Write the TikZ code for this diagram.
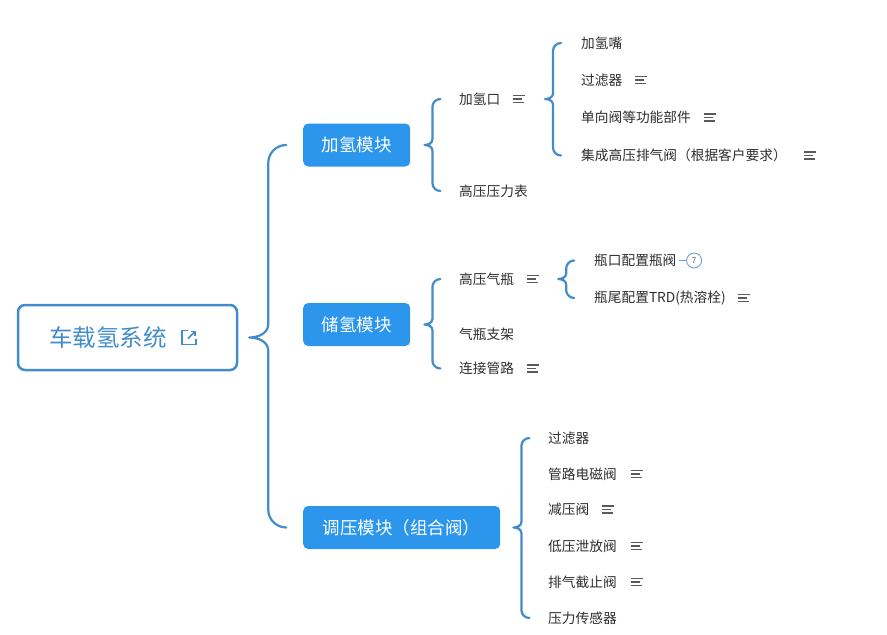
\documentclass[tikz,border=0pt]{standalone}
\usepackage{fontspec}
\setmainfont{Noto Sans CJK SC}
\usetikzlibrary{arrows.meta, calc}
\definecolor{mapblue}  {RGB}{ 43,150,236}
\definecolor{linkblue} {RGB}{ 66,140,204}
\definecolor{leafgray} {RGB}{ 45, 45, 45}
\definecolor{notegray} {RGB}{ 90, 90, 90}
\definecolor{badgeblue}{RGB}{110,160,210}
\tikzset{
  brace line/.style = {linkblue, line width=2.2pt, line cap=round},
  root box/.style   = {draw=linkblue, line width=2.5pt, rounded corners=7pt, fill=white,
                       minimum width=219pt, minimum height=65pt, text=linkblue,
                       font=\fontsize{23.5}{26}\selectfont},
  module box/.style = {fill=mapblue, rounded corners=5pt, text=white, anchor=west,
                       minimum height=43pt, inner xsep=18.5pt,
                       font=\fontsize{17.5}{20}\selectfont},
  leaf/.style       = {anchor=west, inner sep=0pt, text=leafgray,
                       font=\fontsize{13.7}{15}\selectfont},
  badge/.style      = {circle, draw=badgeblue, line width=0.9pt, minimum size=15pt,
                       inner sep=0pt, text=notegray, font=\fontsize{8}{9}\selectfont},
  note/.pic = {
    \draw[notegray, line width=1.1pt] (0,-3.5) -- (12,-3.5) (0,0) -- (9,0) (0,3.5) -- (11,3.5);
  },
}
% curly bracket from a parent to the span of its children
% #1 parent, #2 first child, #3 last child, #4 gap, #5 arm, #6 curl
\newcommand{\mapbrace}[6]{%
  \coordinate (tip) at ($(#1.east)+(#4,0)$);
  \coordinate (arm) at ($(tip)+(#5,0)$);
  \draw[brace line]
    (tip) to[out=0, in=-90] ($(arm)+(0,-0.7*#5)$)
          -- ($(arm |- #2.west)+(0,#6)$)
          to[out=90, in=180] ($(arm |- #2.west)+(#6,0)$)
    (tip) to[out=0, in=90] ($(arm)+(0,0.7*#5)$)
          -- ($(arm |- #3.west)+(0,-#6)$)
          to[out=-90, in=180] ($(arm |- #3.west)+(#6,0)$);
}
\begin{document}
\begin{tikzpicture}[>=Stealth, x=1pt, y=-1pt]
  \useasboundingbox (0,0) rectangle (887,635);

  % ── root ──────────────────────────────────────────────────────────────────
  \node[root box] (root) at (127.5,337.5) {车载氢系统\hspace*{39pt}};
  \begin{scope}[shift={($(root.center)+(61.5,0)$)}, linkblue, line width=1.6pt]
    \draw (-1,-7) -- (-7,-7) -- (-7,7) -- (7,7) -- (7,1);
    \draw[-{Straight Barb[length=3pt,width=6pt]}] (-1,1) -- (7,-7);
  \end{scope}

  % ── modules ───────────────────────────────────────────────────────────────
  \node[module box] (fillmod)  at (303,145)   {加氢模块};
  \node[module box] (storemod) at (303,324.5) {储氢模块};
  \node[module box, minimum width=197pt] (regmod) at (303,527.5) {调压模块（组合阀）};

  % ── leaves ────────────────────────────────────────────────────────────────
  \foreach \name/\xx/\yy/\txt in {
      fillport/459/99/加氢口, gauge/459/191/高压压力表,
      nozzle/581/43/加氢嘴, filterA/581/80/过滤器,
      checkvalve/581/117.5/单向阀等功能部件,
      ventvalve/581/155.5/集成高压排气阀（根据客户要求）,
      cylinder/459/279/高压气瓶, holder/459/334/气瓶支架, piping/459/368.5/连接管路,
      neckvalve/594/260.5/瓶口配置瓶阀, trd/594/298/瓶尾配置TRD(热溶栓),
      filterB/548/438/过滤器, solenoid/548/474/管路电磁阀, reducer/548/509.5/减压阀,
      relief/548/546/低压泄放阀, shutoff/548/582/排气截止阀, sensor/548/618/压力传感器}
    \node[leaf] (\name) at (\xx,\yy) {\txt};

  % note marks
  \foreach \name/\gap in {
      fillport/12, filterA/12.5, checkvalve/12.5, ventvalve/17, cylinder/13,
      piping/13, trd/12, solenoid/14, reducer/12.5, relief/14, shutoff/14}
    \pic at ($(\name.east)+(\gap,0)$) {note};

  % folded count on the bottle valve
  \node[badge] (count) at ($(neckvalve.east)+(17.5,0)$) {7};
  \draw[badgeblue, line width=1pt] ($(neckvalve.east)+(2.5,0)$) -- (count.west);

  % ── brackets ──────────────────────────────────────────────────────────────
  \mapbrace{root}{fillmod}{regmod}{11}{19}{18}
  \mapbrace{fillmod}{fillport}{gauge}{14}{8}{8}
  \mapbrace{fillport}{nozzle}{ventvalve}{44.5}{8}{8}
  \mapbrace{storemod}{cylinder}{piping}{14}{8}{8}
  \mapbrace{cylinder}{neckvalve}{trd}{44}{8}{8}
  \mapbrace{regmod}{filterB}{sensor}{13}{8}{8}

\end{tikzpicture}
\end{document}
